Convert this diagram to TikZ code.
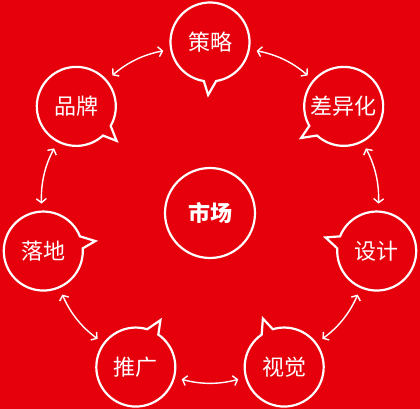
\documentclass[tikz,border=0pt]{standalone}
\usepackage{fontspec}
\newfontfamily\cjk{Noto Sans CJK SC}
\usetikzlibrary{arrows.meta,calc}
\definecolor{bg}{RGB}{230,0,12}
\begin{document}
\begin{tikzpicture}[x=1pt,y=1pt,
  bubble/.style={circle, minimum size=79pt, inner sep=0pt, outer sep=0pt, text=white, font=\cjk\fontsize{22}{22}\selectfont},
  ring/.style={draw=white, line width=2.2pt},
  arr/.style={draw=white, line width=1.4pt, {Straight Barb[length=4pt,width=10pt]}-{Straight Barb[length=4pt,width=10pt]}, shorten <=8pt, shorten >=8pt}]
\fill[bg] (0,0) rectangle (420,409);
\useasboundingbox (0,0) rectangle (420,409);
\node[bubble, font=\cjk\bfseries\fontsize{22}{22}\selectfont, minimum size=90pt] (m) at (210,196) {市场};
\draw[ring] (m.center) circle (45);
\foreach \nm/\lab [count=\i from 0] in {a/策略, b/差异化, c/设计, d/视觉, e/推广, f/落地, g/品牌} {
  \pgfmathsetmacro\ang{90-\i*360/7}
  \pgfmathsetmacro\t{\ang+180}
  \node[bubble] (\nm) at ($(m.center)+(\ang:171)$) {\lab};
  \draw[ring] ($(\nm.center)+(\t+9:39.5)$) arc[start angle=\t+9, end angle=\t+351, radius=39.5] -- ($(\nm.center)+(\t-2:53)$) -- cycle;
}
\draw[arr] (a) to[bend left=15] (b);
\draw[arr] (b) to[bend left=15] (c);
\draw[arr] (c) to[bend left=15] (d);
\draw[arr] (d) to[bend left=15] (e);
\draw[arr] (e) to[bend left=15] (f);
\draw[arr] (f) to[bend left=15] (g);
\draw[arr] (g) to[bend left=15] (a);
\end{tikzpicture}
\end{document}
